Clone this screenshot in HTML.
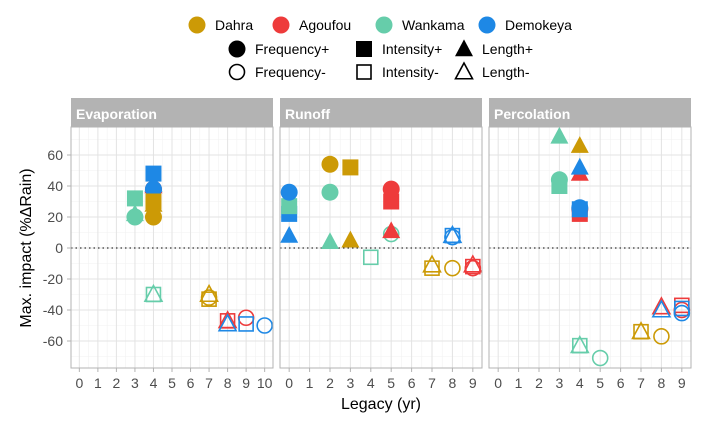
<!DOCTYPE html>
<html><head><meta charset="utf-8"><style>
body{margin:0;background:#fff}
svg{font-family:"Liberation Sans",sans-serif;display:block}
</style></head><body>
<svg id="chart" width="710" height="430"></svg>
<script>
const groups = ["Dahra","Agoufou","Wankama","Demokeya"];
const groupColors = ["#CC9A06","#EE3B3B","#66CDAA","#1E88E5"];
const panels = ["Evaporation","Runoff","Percolation"];
const panelXMax = [10,9,9];
const yTicks = [-60,-40,-20,0,20,40,60];
// points: [panel, group, type(F/I/L), sign(+/-), legacy, impact]
const evapPoints = [
 [0,2,"I","+",3,32],[0,2,"L","+",3,22],[0,2,"F","+",3,20],
 [0,1,"F","+",4,38],[0,1,"L","+",4,40],
 [0,3,"I","+",4,48],[0,3,"F","+",4,38],[0,3,"L","+",4,41],
 [0,0,"I","+",4,30],[0,0,"L","+",4,28],[0,0,"F","+",4,20],
 [0,2,"I","-",4,-30],[0,2,"L","-",4,-30],
 [0,0,"I","-",7,-33],[0,0,"L","-",7,-30],[0,0,"F","-",7,-32],
 [0,1,"I","-",8,-47],[0,1,"L","-",8,-47],[0,1,"F","-",9,-45],
 [0,3,"L","-",8,-49],[0,3,"I","-",9,-49],[0,3,"F","-",10,-50]
];
const runoffPoints = [
 [1,0,"F","+",2,54],[1,0,"I","+",3,52],[1,0,"L","+",3,5],
 [1,3,"I","+",0,22],[1,2,"I","+",0,27],[1,3,"F","+",0,36],[1,3,"L","+",0,8],
 [1,2,"F","+",2,36],[1,2,"L","+",2,4],[1,2,"F","-",5,9],[1,2,"I","-",4,-6],
 [1,1,"I","+",5,30],[1,1,"F","+",5,38],[1,1,"L","+",5,11],
 [1,3,"I","-",8,8],[1,3,"L","-",8,8],[1,3,"F","-",8,7],
 [1,0,"I","-",7,-13],[1,0,"L","-",7,-11],[1,0,"F","-",8,-13],
 [1,1,"I","-",9,-12],[1,1,"L","-",9,-11],[1,1,"F","-",9,-13]
];
const percPoints = [
 [2,2,"L","+",3,72],[2,2,"I","+",3,40],[2,2,"F","+",3,44],
 [2,0,"L","+",4,66],[2,1,"L","+",4,48],[2,3,"L","+",4,52],
 [2,1,"I","+",4,22],[2,1,"F","+",4,25],[2,3,"I","+",4,25],[2,3,"F","+",4,26],
 [2,2,"I","-",4,-63],[2,2,"L","-",4,-63],[2,2,"F","-",5,-71],
 [2,0,"I","-",7,-54],[2,0,"L","-",7,-54],[2,0,"F","-",8,-57],
 [2,1,"L","-",8,-38],[2,1,"I","-",9,-37],[2,1,"F","-",9,-40],
 [2,3,"L","-",8,-40],[2,3,"I","-",9,-39],[2,3,"F","-",9,-42]
];
const NS="http://www.w3.org/2000/svg";
const svgEl=document.getElementById("chart");
function mk(tag,attrs,parent){const e=document.createElementNS(NS,tag);for(const k in attrs)e.setAttribute(k,attrs[k]);(parent||svgEl).appendChild(e);return e;}
const panelX0=[71,280,489], panelW=202, pTop=127, pBottom=368, stripTop=98;
function yScale(v){return 248-v*1.55;}
function xScale(p,v){const mx=panelXMax[p];return panelX0[p]+(v+0.45)/(mx+0.9)*panelW;}
function marker(type,sign,x,y,color,parent){
  const filled=sign==="+";
  const st=filled?{fill:color,stroke:"none"}:{fill:"none",stroke:color,"stroke-width":1.6};
  let e;
  if(type==="F") e=mk("circle",Object.assign({cx:x,cy:y,r:filled?8.5:7.5},st),parent);
  else if(type==="I"){const s=filled?16:14;e=mk("rect",Object.assign({x:x-s/2,y:y-s/2,width:s,height:s},st),parent);}
  else {const h=filled?16:15,w=filled?18:17;e=mk("polygon",Object.assign({points:`${x},${y-h*0.6} ${x-w/2},${y+h*0.45} ${x+w/2},${y+h*0.45}`},st),parent);}
  return e;
}
for(let p=0;p<3;p++){
  const x0=panelX0[p];
  const pg=mk("g",{});
  
  
  const strip=mk("rect",{x:x0,y:stripTop,width:panelW,height:pTop-stripTop,fill:"#b3b3b3"},pg);
  
  
  const st=mk("text",{x:x0+5,y:pTop-8,fill:"#fff","font-size":14,"font-weight":"bold"},pg);st.textContent=panels[p];
  
  
  for(let v=-70;v<=70;v+=20) mk("line",{x1:x0,x2:x0+panelW,y1:yScale(v),y2:yScale(v),stroke:"#f2f2f2","stroke-width":0.6},pg);
  for(let v=0.5;v<panelXMax[p];v+=1) mk("line",{x1:xScale(p,v),x2:xScale(p,v),y1:pTop,y2:pBottom,stroke:"#f2f2f2","stroke-width":0.6},pg);
  yTicks.forEach(v=>mk("line",{x1:x0,x2:x0+panelW,y1:yScale(v),y2:yScale(v),stroke:"#e3e3e3","stroke-width":1},pg));
  for(let v=0;v<=panelXMax[p];v++){
    mk("line",{x1:xScale(p,v),x2:xScale(p,v),y1:pTop,y2:pBottom,stroke:"#e3e3e3","stroke-width":1},pg);
    mk("line",{x1:xScale(p,v),x2:xScale(p,v),y1:pBottom,y2:pBottom+4,stroke:"#b3b3b3"},pg);
    const t=mk("text",{x:xScale(p,v),y:pBottom+20,"text-anchor":"middle","font-size":14,fill:"#4d4d4d"},pg);t.textContent=v;
    
    
  }
  mk("line",{x1:x0,x2:x0+panelW,y1:yScale(0),y2:yScale(0),stroke:"#333","stroke-width":1.3,"stroke-dasharray":"1.5,3"},pg);
  const pts=[evapPoints,runoffPoints,percPoints][p];
  pts.forEach(d=>{
    const m=marker(d[2],d[3],xScale(p,d[4]),yScale(d[5]),groupColors[d[1]],pg);
    
    
  });
  mk("rect",{x:x0,y:pTop,width:panelW,height:pBottom-pTop,fill:"none",stroke:"#b3b3b3","stroke-width":1},pg);
}
yTicks.forEach(v=>{
  const t=mk("text",{x:63,y:yScale(v)+5,"text-anchor":"end","font-size":14,fill:"#4d4d4d"});t.textContent=v;
  
  
  mk("line",{x1:67,x2:71,y1:yScale(v),y2:yScale(v),stroke:"#b3b3b3"});
});
const yt=mk("text",{x:0,y:0,transform:"translate(31,248) rotate(-90)","text-anchor":"middle","font-size":16,fill:"#000"});yt.textContent="Max. impact (%ΔRain)";


const xt=mk("text",{x:381,y:409,"text-anchor":"middle","font-size":16,fill:"#000"});xt.textContent="Legacy (yr)";


const legX=[197,281,384,487];
groups.forEach((g,i)=>{
  const c=mk("circle",{cx:legX[i],cy:25,r:8.5,fill:groupColors[i]});
  
  
  const t=mk("text",{x:legX[i]+18,y:30,"font-size":14});t.textContent=g;
  
  
});
const shapeTypes=["F","I","L"], shapeNames=["Frequency","Intensity","Length"], shapeX=[237,364,464];
["+","-"].forEach((s,r)=>{
  shapeTypes.forEach((ty,i)=>{
    const m=marker(ty,s,shapeX[i],48+r*23+1,"#000");
    
    
    const t=mk("text",{x:shapeX[i]+18,y:54+r*23,"font-size":14});t.textContent=shapeNames[i]+s;
    
    
  });
});
</script>
</body></html>
